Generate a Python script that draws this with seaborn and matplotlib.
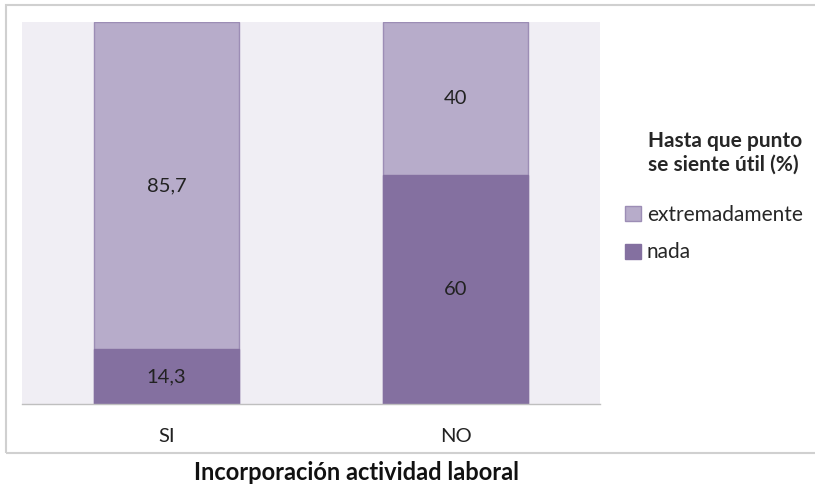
import matplotlib
matplotlib.use("Agg")
import matplotlib.pyplot as plt
from matplotlib.patches import Rectangle, Patch
import seaborn as sns
import pandas as pd

categories = ["SI", "NO"]
nada = [14.3, 60]
extremadamente = [85.7, 40]
series_names = ["extremadamente", "nada"]
legend_title = "Hasta que punto\nse siente útil (%)"
x_title = "Incorporación actividad laboral"

light = "#B7ACCA"
dark = "#8470A0"
edge_light = "#9C8DB5"
bg = "#F0EEF4"

sns.set_theme(style="white")
plt.rcParams["font.family"] = ["Lato", "DejaVu Sans"]

df = pd.DataFrame({
    "cat": categories,
    "nada": nada,
    "extremadamente": extremadamente,
})
df["total"] = df["nada"] + df["extremadamente"]

fig = plt.figure(figsize=(8.15, 4.91), dpi=100)
ax = fig.add_axes([22 / 815, 1 - 404 / 491, (600 - 22) / 815, (404 - 22) / 491])
ax.set_facecolor(bg)

# stacked bars: full height in the light tone, lower segment in the dark tone
sns.barplot(data=df, x="cat", y="total", color=light, width=0.505,
            saturation=1, edgecolor=edge_light, linewidth=1, ax=ax)
sns.barplot(data=df, x="cat", y="nada", color=dark, width=0.505,
            saturation=1, edgecolor=dark, linewidth=1, ax=ax)

ax.set_ylim(0, 100)
ax.set_xlim(-0.5, 1.5)
ax.set_yticks([])
ax.set_ylabel("")
ax.set_xlabel("")
for side in ["left", "top", "right"]:
    ax.spines[side].set_visible(False)
ax.spines["bottom"].set_color("#BFBFBF")
ax.spines["bottom"].set_linewidth(1)

# category ticks sit on the boundaries between groups
ax.set_xticks([-0.5, 0.5, 1.5])
ax.set_xticklabels([])
ax.tick_params(axis="x", length=6, color="#BFBFBF", width=1, direction="out")
for i, c in enumerate(categories):
    ax.text(i, -8.5, c, ha="center", va="center", fontsize=14.5, color="#222222")

fmt = lambda v: f"{v:g}".replace(".", ",")
for i in range(len(categories)):
    ax.text(i, nada[i] / 2, fmt(nada[i]), ha="center", va="center",
            fontsize=14.5, color="#222222")
    ax.text(i, nada[i] + extremadamente[i] / 2, fmt(extremadamente[i]),
            ha="center", va="center", fontsize=14.5, color="#222222")

# outer frame of the chart
fig.patches.append(Rectangle((6 / 815, 1 - 453 / 491), 1.0, (453 - 5) / 491,
                             transform=fig.transFigure, fill=False,
                             edgecolor="#D0D0D0", linewidth=1.5))

handles = [Patch(facecolor=light, edgecolor=edge_light, label=series_names[0]),
           Patch(facecolor=dark, edgecolor=dark, label=series_names[1])]
leg = fig.legend(handles=handles, title=legend_title, loc="upper left",
                 bbox_to_anchor=(625 / 815, 1 - 131 / 491), frameon=False,
                 borderpad=0, borderaxespad=0,
                 fontsize=15, title_fontproperties={"weight": "bold", "size": 15},
                 handlelength=0.75, handleheight=0.75, handletextpad=0.3,
                 labelspacing=0.85, alignment="right")
leg._legend_box.sep = 22

fig.text(356 / 815, 1 - 472 / 491, x_title, ha="center", va="center",
         fontsize=17, fontweight="bold", color="#111111")

fig.savefig("out.png", dpi=100)
